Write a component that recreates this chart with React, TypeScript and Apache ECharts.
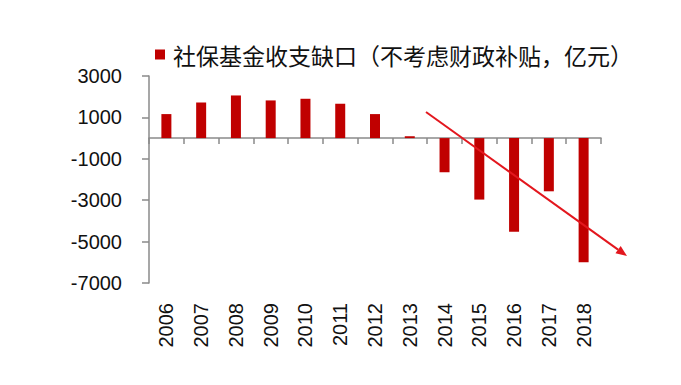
import React, { useEffect, useRef } from "react";
import * as echarts from "echarts";

const categories = ["2006", "2007", "2008", "2009", "2010", "2011", "2012", "2013", "2014", "2015", "2016", "2017", "2018"];
const gapValues = [1160, 1720, 2060, 1820, 1900, 1660, 1160, 90, -1650, -2970, -4530, -2570, -6000];
const seriesName = "社保基金收支缺口（不考虑财政补贴，亿元）";
const yMin = -7000;
const yMax = 3000;
const yStep = 2000;

export default function App() {
  const ref = useRef<HTMLDivElement>(null);
  useEffect(() => {
    if (!ref.current) return;
    const chart = echarts.init(ref.current, undefined, { renderer: "svg" });
    const tip = [627, 256];
    const start = [426, 112];
    const dx = tip[0] - start[0];
    const dy = tip[1] - start[1];
    const len = Math.sqrt(dx * dx + dy * dy);
    const ux = dx / len, uy = dy / len;
    const headL = 11, headW = 4.5;
    const bx = tip[0] - ux * headL, by = tip[1] - uy * headL;
    const nx = -uy, ny = ux;
    chart.setOption({
      animation: false,
      backgroundColor: "#ffffff",
      legend: {
        show: true,
        left: 150,
        top: 38,
        itemWidth: 10,
        itemHeight: 10,
        icon: "rect",
        textStyle: {
          fontFamily: "Noto Sans CJK SC",
          fontSize: 23,
          color: "#111",
          padding: [0, 0, 0, 3],
        },
        data: [seriesName],
      },
      grid: {
        left: 149,
        right: 80,
        top: 76,
        bottom: 102,
        containLabel: false,
        outerBoundsMode: "none",
      },
      xAxis: {
        type: "category",
        data: categories,
        axisLine: { show: true, onZero: true, lineStyle: { color: "#8a8a8a", width: 1.5 } },
        axisTick: { show: true, length: 6, lineStyle: { color: "#8a8a8a", width: 1.5 } },
        axisLabel: {
          rotate: 90,
          margin: 20,
          fontFamily: "Liberation Sans",
          fontSize: 20,
          color: "#111",
          hideOverlap: false,
        },
      },
      yAxis: {
        type: "value",
        min: yMin,
        max: yMax,
        interval: yStep,
        splitLine: { show: false },
        axisLine: { show: true, lineStyle: { color: "#8a8a8a", width: 1.5 } },
        axisTick: { show: true, length: 7, lineStyle: { color: "#8a8a8a", width: 1.5 } },
        axisLabel: {
          margin: 27,
          fontFamily: "Liberation Sans",
          fontSize: 20,
          color: "#111",
          formatter: (v: number) => String(v),
        },
      },
      series: [
        {
          name: seriesName,
          type: "bar",
          data: gapValues,
          barWidth: 10,
          itemStyle: { color: "#c00000" },
        },
      ],
      graphic: [
        {
          type: "line",
          shape: { x1: start[0], y1: start[1], x2: bx, y2: by },
          style: { stroke: "#e3171e", lineWidth: 2 },
          z: 100,
        },
        {
          type: "polygon",
          shape: {
            points: [
              [tip[0], tip[1]],
              [bx + nx * headW, by + ny * headW],
              [bx - nx * headW, by - ny * headW],
            ],
          },
          style: { fill: "#e3171e" },
          z: 100,
        },
      ],
    });
    return () => chart.dispose();
  }, []);
  return (
    <div
      ref={ref}
      style={{ position: "absolute", left: 0, top: 0, width: 681, height: 385 }}
    />
  );
}
